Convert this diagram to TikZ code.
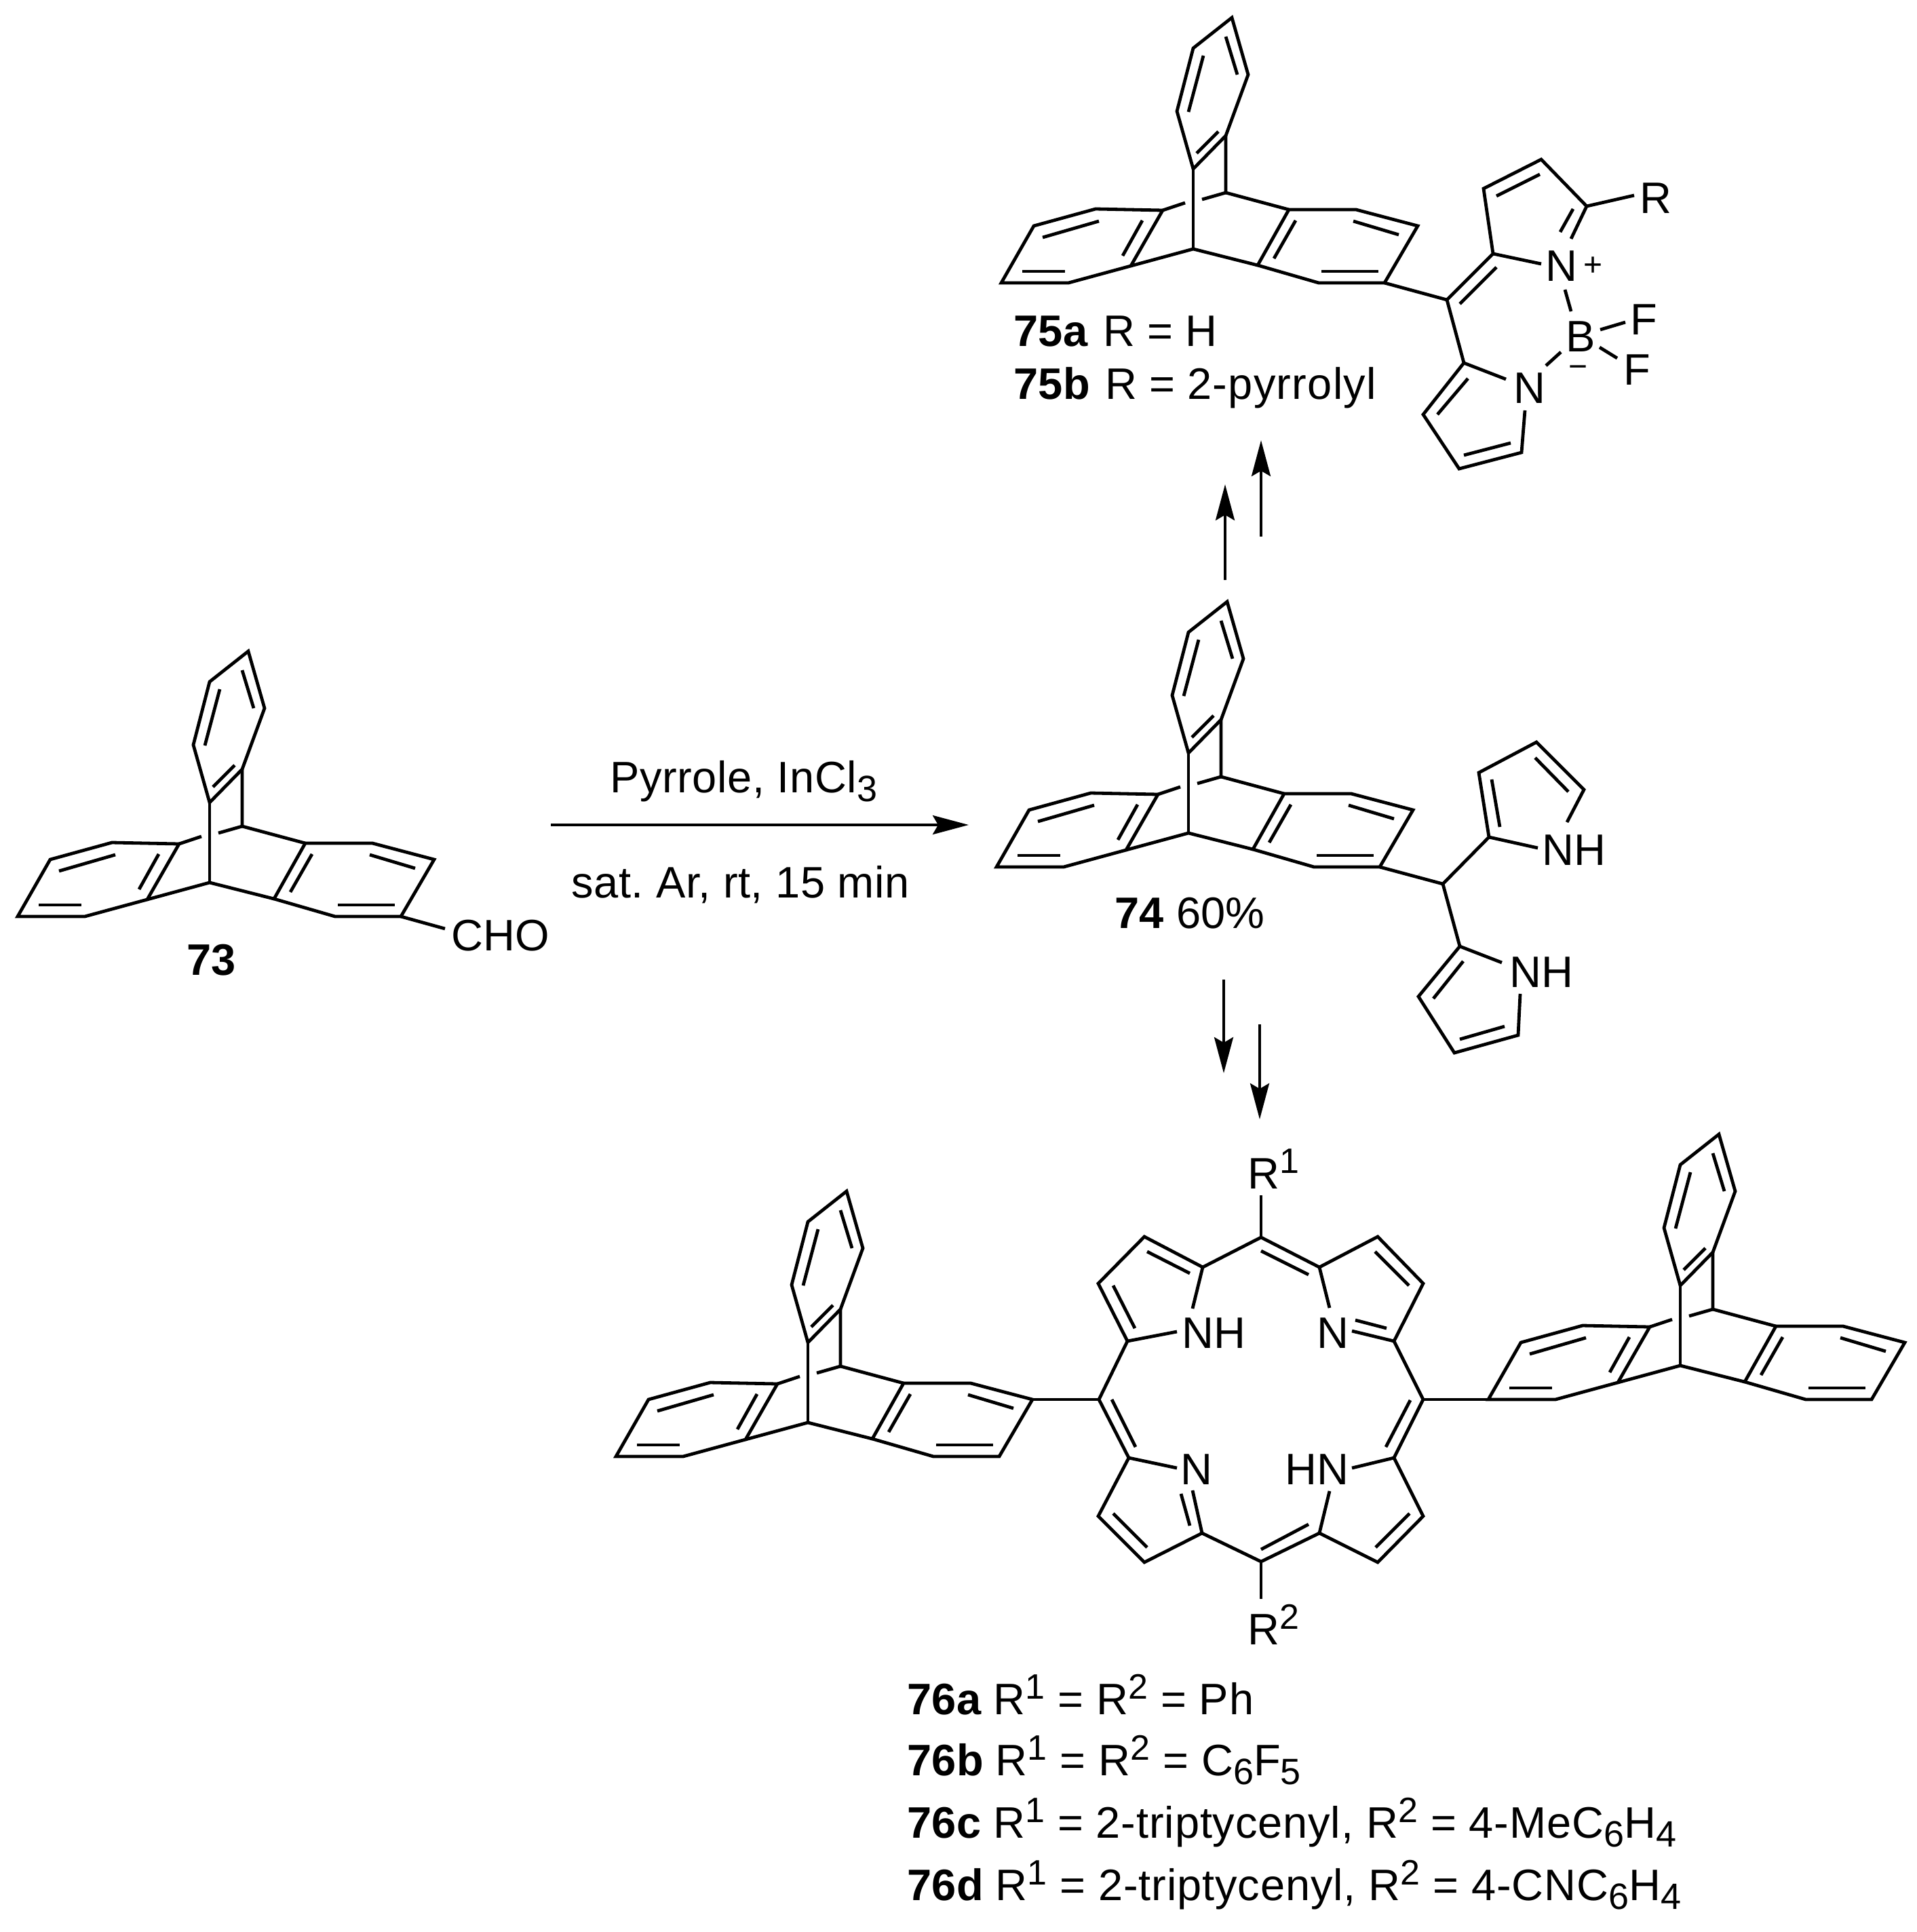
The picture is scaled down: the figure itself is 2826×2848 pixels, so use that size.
\documentclass[tikz,border=0pt]{standalone}
\usepackage{fontspec}
\setmainfont{Liberation Sans}
\usetikzlibrary{arrows.meta}

\tikzset{
	bond/.style={line width=1.2pt},
	rxn/.style={line width=1pt,-{Stealth[length=13.25pt,width=7pt,inset=2pt]}},
	atom/.style={inner sep=0pt,anchor=base},
	charge/.style={inner sep=0pt,anchor=base,font=\fontsize{12}{12}\selectfont},
	cmpd/.style={inner sep=0pt,anchor=base west},
}
\newcommand{\subs}[1]{\raisebox{-3.25pt}{\fontsize{13.5}{13.5}\selectfont #1}}
\newcommand{\sups}[1]{\raisebox{5.75pt}{\fontsize{13}{13}\selectfont #1}}
\newcommand{\spaced}[1]{\addfontfeature{LetterSpace=#1}}
% one triptycene, #1 prefix of its points, #2 lower bridgehead
\newcommand{\triptycene}[2]{
	\begin{scope}[shift={(#2)}]
		\foreach \n/\x/\y in {o/0/0,u/48/-83,t1/57/-341,t2/0/-296,t3/-24/-203,t4/0/-118,t5/48/-167,t6/81/-257,
			l1/-45/-57,l2/-144/-59,l3/-235/-34,l4/-283/50,l5/-184/50,l6/-92/25,
			r1/141/-58,r2/240/-58,r3/331/-34,r4/282/50,r5/185/50,r6/95/24,
			g0/-12/-68,g1/13/-73,
			a0/48/-313,a1/65/-257,b0/15/-285,b1/-7/-202,c0/37/-173,c1/5/-141,
			d0/-139/-41,d1/-222/-17,e0/-75/-42,e1/-104/10,f0/-252/33,f1/-189/33,
			h0/151/-42,h1/119/14,i0/236/-41,i1/303/-21,j0/189/33,j1/273/33}
			\coordinate (#1\n) at (\x,\y);
	\end{scope}
	\draw[bond] (#1t1) -- (#1t2) -- (#1t3) -- (#1t4) -- (#1t5) -- (#1t6) -- cycle;
	\draw[bond] (#1l1) -- (#1l2) -- (#1l3) -- (#1l4) -- (#1l5) -- (#1l6) -- cycle;
	\draw[bond] (#1r1) -- (#1r2) -- (#1r3) -- (#1r4) -- (#1r5) -- (#1r6) -- cycle;
	\draw[bond] (#1t4) -- (#1o);
	\draw[bond] (#1t5) -- (#1u) -- (#1r1);
	\draw[bond] (#1l6) -- (#1o) -- (#1r6);
	\draw[bond] (#1l1) -- (#1g0);
	\draw[bond] (#1g1) -- (#1u);
	\foreach \p in {a,b,c,d,e,f,h,i,j}
		\draw[bond] (#1\p0) -- (#1\p1);
}

\begin{document}
\frenchspacing
\begin{tikzpicture}[x=.25pt,y=-.25pt,font=\fontsize{16.25}{19}\selectfont]
	\useasboundingbox (0,0) rectangle (2826,2848);

	% compound 73
	\triptycene{A}{309,1301}
	\coordinate (cho) at (656,1369);
	\draw[bond] (Ar4) -- (cho);
	\node[cmpd] (chotext) at (665,1401) {CHO};
	\node[atom] (lab73) at (312,1437) {\textbf{73}};

	% reaction arrow
	\coordinate (s0) at (812,1216);
	\coordinate (s1) at (1428,1216);
	\draw[rxn] (s0) -- (s1);
	\node[cmpd] (reag) at (899,1168) {\spaced{.8}Pyrrole, InCl\subs{3}};
	\node[cmpd] (cond) at (842,1323) {\spaced{.7}sat. Ar, rt, 15 min};

	% compound 74
	\triptycene{B}{1752,1228}
	\foreach \n/\x/\y in {ch/2127/1303,p1/2195/1234,p2/2180/1139,p3/2265/1094,p4/2335/1164,p5/2310/1212,p6/2267/1250,
		p7/2199/1149,p8/2211/1219,p9/2263/1117,p10/2312/1167,
		q1/2152/1395,q2/2091/1469,q3/2144/1552,q4/2238/1526,q5/2241/1465,q6/2214/1419,
		q7/2157/1417,q8/2113/1472,q9/2152/1532,q10/2218/1513}
		\coordinate (\n) at (\x,\y);
	\draw[bond] (Br4) -- (ch) -- (p1) -- (p2) -- (p3) -- (p4) -- (p5);
	\draw[bond] (ch) -- (q1) -- (q2) -- (q3) -- (q4) -- (q5);
	\draw[bond] (p1) -- (p6);
	\draw[bond] (q1) -- (q6);
	\draw[bond] (p7) -- (p8);
	\draw[bond] (p9) -- (p10);
	\draw[bond] (q7) -- (q8);
	\draw[bond] (q9) -- (q10);
	\node[atom] (nh1) at (2320,1275) {NH};
	\node[atom] (nh2) at (2272,1455) {NH};
	\node[atom] (lab74) at (1754,1368) {\textbf{74} 60\%};

	% arrows to 75 and 76
	\coordinate (up0) at (1806,855);
	\coordinate (up1) at (1806,714);
	\coordinate (up2) at (1859,791);
	\coordinate (up3) at (1859,649);
	\coordinate (dn0) at (1804,1444);
	\coordinate (dn1) at (1804,1582);
	\coordinate (dn2) at (1857,1510);
	\coordinate (dn3) at (1857,1650);
	\draw[rxn] (up0) -- (up1);
	\draw[rxn] (up2) -- (up3);
	\draw[rxn] (dn0) -- (dn1);
	\draw[rxn] (dn2) -- (dn3);

	% compound 75
	\triptycene{C}{1759,367}
	\foreach \n/\x/\y in {m/2133/442,u1/2201/374,u2/2187/278,u3/2272/235,u4/2339/304,u5/2316/352,u6/2272/389,
		u7/2319/308,u8/2300/342,u9/2270/257,u10/2206/289,m1/2206/394,m2/2152/448,
		v1/2158/535,v2/2098/611,v3/2151/691,v4/2243/667,v5/2248/605,v6/2220/559,
		v7/2164/558,v8/2119/611,v9/2158/671,v10/2227/653,
		rr/2409/288,nb0/2307/427,nb1/2316/459,nb2/2279/539,nb3/2301/519,
		bf0/2359/486,bf1/2396/475,bf2/2358/512,bf3/2384/528}
		\coordinate (\n) at (\x,\y);
	\draw[bond] (Cr4) -- (m) -- (u1) -- (u2) -- (u3) -- (u4) -- (u5);
	\draw[bond] (u1) -- (u6);
	\draw[bond] (u4) -- (rr);
	\draw[bond] (u7) -- (u8);
	\draw[bond] (u9) -- (u10);
	\draw[bond] (m1) -- (m2);
	\draw[bond] (m) -- (v1) -- (v2) -- (v3) -- (v4) -- (v5);
	\draw[bond] (v1) -- (v6);
	\draw[bond] (v7) -- (v8);
	\draw[bond] (v9) -- (v10);
	\draw[bond] (nb0) -- (nb1);
	\draw[bond] (nb2) -- (nb3);
	\draw[bond] (bf0) -- (bf1);
	\draw[bond] (bf2) -- (bf3);
	\node[atom] (rtext) at (2441,314) {R};
	\node[atom] (nplus) at (2302,414) {N};
	\node[charge] (plus) at (2348,406) {+};
	\node[atom] (boron) at (2330,518) {B};
	\node[charge] (minus) at (2326,556) {−};
	\node[atom] (nlow) at (2255,594) {N};
	\node[atom] (f1) at (2423,493) {F};
	\node[atom] (f2) at (2413,567) {F};
	\node[cmpd] (lab75a) at (1494,510) {\textbf{75a}\hspace{1.2pt} R = H};
	\node[cmpd] (lab75b) at (1494,588) {\textbf{75b}\hspace{1.1pt} R = {\spaced{2}2-pyrrolyl}};

	% compound 76
	\triptycene{D}{1191,2097}
	\triptycene{E}{2477,2013}
	\foreach \n/\x/\y in {mt/1859/1824,mb/1859/2302,ml/1620/2063,mr/2098/2063,r1/1859/1762,r2/1859/2357,
		a1/1773/1868,a2/1687/1823,a3/1619/1892,a4/1662/1977,a5/1758/1929,a6/1735/1963,
		a7/1754/1877,a8/1691/1845,a9/1673/1958,a10/1641/1895,
		b1/1664/2149,b2/1619/2235,b3/1687/2303,b4/1772/2260,b5/1735/2164,b6/1758/2197,
		b7/1641/2231,b8/1691/2281,b9/1741/2202,b10/1754/2249,
		c1/2055/2149,c2/2098/2235,c3/2031/2303,c4/1945/2260,c5/1993/2164,c6/1960/2198,
		c7/2028/2281,c8/2078/2231,
		d1/2055/1977,d2/2098/1892,d3/2031/1823,d4/1945/1868,d5/1993/1962,d6/1960/1928,
		d7/2077/1895,d8/2027/1845,d9/1998/1946,d10/2044/1958,
		k0/1674/2133,k1/1639/2063,k2/2043/2133,k3/2079/2064,k4/1859/2284,k5/1929/2247,k6/1859/1844,k7/1929/1879}
		\coordinate (\n) at (\x,\y);
	\draw[bond] (Dr3) -- (ml);
	\draw[bond] (mr) -- (El4);
	\draw[bond] (mt) -- (r1);
	\draw[bond] (mb) -- (r2);
	\draw[bond] (a5) -- (a1) -- (a2) -- (a3) -- (a4) -- (a6);
	\draw[bond] (b5) -- (b1) -- (b2) -- (b3) -- (b4) -- (b6);
	\draw[bond] (c5) -- (c1) -- (c2) -- (c3) -- (c4) -- (c6);
	\draw[bond] (d5) -- (d1) -- (d2) -- (d3) -- (d4) -- (d6);
	\draw[bond] (a1) -- (mt) -- (d4);
	\draw[bond] (a4) -- (ml) -- (b1);
	\draw[bond] (b4) -- (mb) -- (c4);
	\draw[bond] (c1) -- (mr) -- (d1);
	\foreach \p/\q in {a7/a8,a9/a10,b7/b8,b9/b10,c7/c8,d7/d8,d9/d10,k0/k1,k2/k3,k4/k5,k6/k7}
		\draw[bond] (\p) -- (\q);
	\node[cmpd] (r1text) at (1839,1752) {R\sups{1}};
	\node[cmpd] (r2text) at (1839,2424) {R\sups{2}};
	\node[atom] (nh3) at (1789,1987) {NH};
	\node[atom] (n3) at (1965,1987) {N};
	\node[atom] (n4) at (1764,2188) {N};
	\node[atom] (nh4) at (1941,2188) {HN};
	\node[cmpd] (lab76a) at (1337,2527) {\textbf{76a} {\spaced{1.3}R\sups{1} = R\sups{2} = Ph}};
	\node[cmpd] (lab76b) at (1337,2617) {\textbf{76b} {\spaced{1.3}R\sups{1} = R\sups{2} = C\subs{6}F\subs{5}}};
	\node[cmpd] (lab76c) at (1337,2709) {\textbf{76c} {\spaced{1.3}R\sups{1} = 2-triptycenyl, R\sups{2} = 4-MeC\subs{6}H\subs{4}}};
	\node[cmpd] (lab76d) at (1337,2801) {\textbf{76d} {\spaced{1.3}R\sups{1} = 2-triptycenyl, R\sups{2} = 4-CNC\subs{6}H\subs{4}}};
\end{tikzpicture}
\end{document}
